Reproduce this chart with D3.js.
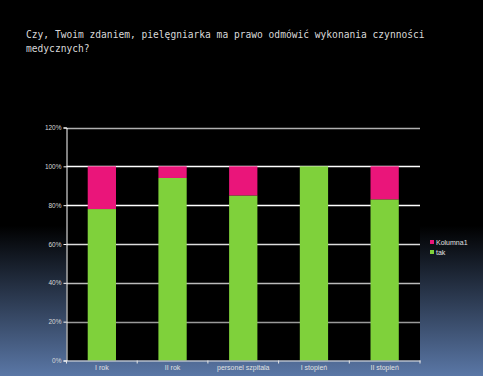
<!DOCTYPE html>
<html><head><meta charset="utf-8">
<script src="https://cdn.jsdelivr.net/npm/d3@7"></script>
<style>body{margin:0;background:#000;}svg{display:block;}</style>
</head><body>
<script>
const categories = ["I rok", "II rok", "personel szpitala", "I stopień", "II stopień"];
const takValues = [78, 94, 85, 100, 83];
const kolumna1Values = [22, 6, 15, 0, 17];
const seriesNames = ["tak", "Kolumna1"];
const yTicks = [0, 20, 40, 60, 80, 100, 120];
const titleLines = ["Czy, Twoim zdaniem, pielęgniarka ma prawo odmówić wykonania czynności", "medycznych?"];

(function () {
const W = 483, H = 376;
const svg = d3.select("body").append("svg").attr("width", W).attr("height", H);
const defs = svg.append("defs");
const bg = defs.append("linearGradient").attr("id", "bg").attr("x1", 0).attr("y1", 0).attr("x2", 0).attr("y2", 1);
bg.append("stop").attr("offset", "0%").attr("stop-color", "#000");
bg.append("stop").attr("offset", "60%").attr("stop-color", "#000");
bg.append("stop").attr("offset", "100%").attr("stop-color", "#5a77a6");
svg.append("rect").attr("width", W).attr("height", H).attr("fill", "url(#bg)");

const title = svg.append("text").attr("x", 26).attr("y", 38)
  .attr("font-family", "DejaVu Sans Mono").attr("font-size", 9.6).attr("fill", "#d8d8d8");
titleLines.forEach((t, i) => title.append("tspan").attr("x", 26).attr("dy", i ? 14 : 0).text(t));

const pL = 66.5, pR = 420, pT = 127.5, pB = 360.5;
const x = d3.scaleBand().domain(categories).range([pL, pR]).paddingInner(0.6).paddingOuter(0.3);
const y = d3.scaleLinear().domain([0, 120]).range([pB, pT]);

svg.append("rect").attr("x", pL).attr("y", pT).attr("width", pR - pL).attr("height", pB - pT).attr("fill", "#000");

const gridColor = d3.scaleLinear().domain([20, 60, 80, 100, 120]).range(["#9a9a9a", "#dcdcdc", "#ffffff", "#ffffff", "#b0b0b0"]);
svg.append("g").selectAll("line").data(yTicks.filter(d => d > 0)).join("line")
  .attr("x1", pL).attr("x2", pR).attr("y1", d => Math.round(y(d)) + 0.5).attr("y2", d => Math.round(y(d)) + 0.5)
  .attr("stroke", d => gridColor(d)).attr("stroke-width", 1.3);

const stackData = categories.map((c, i) => ({cat: c, tak: takValues[i], Kolumna1: kolumna1Values[i]}));
const stack = d3.stack().keys(seriesNames)(stackData);
const colors = {tak: "#7fd13b", Kolumna1: "#ea157a"};
svg.append("g").selectAll("g").data(stack).join("g").attr("fill", d => colors[d.key])
  .selectAll("rect").data(d => d).join("rect")
  .attr("x", d => x(d.data.cat)).attr("width", x.bandwidth())
  .attr("y", d => y(d[1])).attr("height", d => y(d[0]) - y(d[1]));

const yAxis = d3.axisLeft(y).tickValues(yTicks).tickFormat(d => d + "%").tickSize(3).tickPadding(2);
const gy = svg.append("g").attr("transform", `translate(${pL},0)`).call(yAxis);
gy.select(".domain").attr("stroke", "#fff");
gy.selectAll(".tick line").attr("stroke", "#fff");
gy.selectAll("text").attr("fill", "#d8d8d8").attr("font-family", "Liberation Sans, Arial").attr("font-size", 6.5);

const xAxis = d3.axisBottom(x).tickSize(0).tickPadding(5);
const gx = svg.append("g").attr("transform", `translate(0,${pB})`).call(xAxis);
gx.select(".domain").attr("stroke", "#e8e8e8");
gx.selectAll("text").attr("fill", "#e0e0e0").attr("font-family", "Liberation Sans, Arial").attr("font-size", 7);
const step = (pR - pL) / categories.length;
svg.append("g").selectAll("line").data(d3.range(categories.length + 1)).join("line")
  .attr("x1", i => pL + i * step).attr("x2", i => pL + i * step)
  .attr("y1", pB).attr("y2", pB + 3).attr("stroke", "#e8e8e8");

const legendItems = ["Kolumna1", "tak"];
const lg = svg.append("g").attr("transform", "translate(430,242)");
legendItems.forEach((k, i) => {
  const g = lg.append("g").attr("transform", `translate(0,${i * 10})`);
  g.append("rect").attr("x", 0).attr("y", -2).attr("width", 4).attr("height", 4).attr("fill", colors[k]);
  g.append("text").attr("x", 6).attr("y", 2.5).text(k).attr("fill", "#e0e0e0")
    .attr("font-family", "Liberation Sans, Arial").attr("font-size", 7);
});
})();
</script>
</body></html>
